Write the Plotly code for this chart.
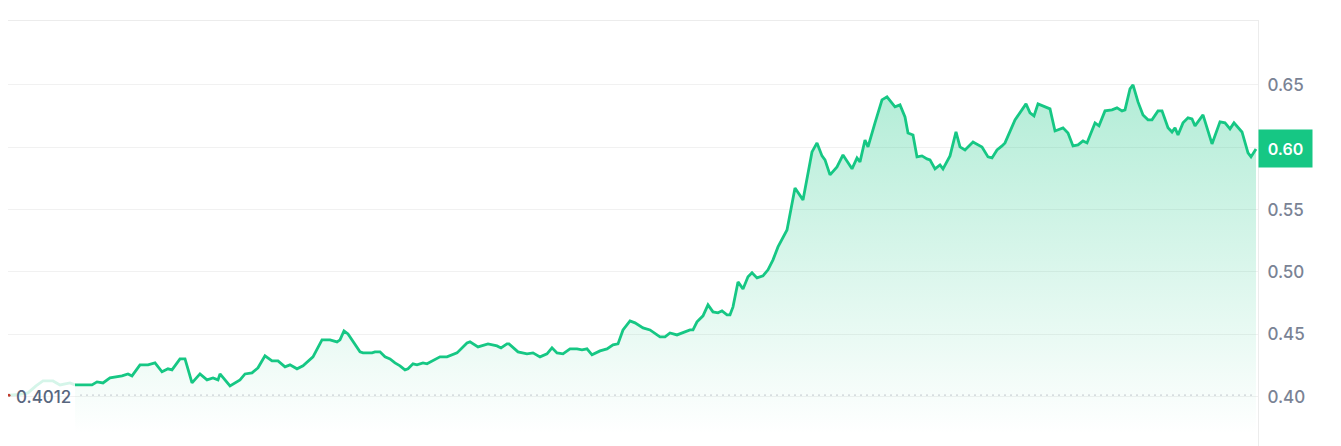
import plotly.graph_objects as go

# Time axis: minutes since the start of the displayed period
lead_minutes = [0, 55, 95, 135, 170, 220, 255, 305, 330]
lead_prices = [0.4012, 0.4018, 0.4030, 0.4086, 0.4126, 0.4126, 0.4094, 0.4110, 0.4094]

minutes = [
    330, 415, 440, 470, 505, 540, 565, 595, 615, 655, 695, 730, 765, 795, 815, 855, 880,
    915, 955, 990, 1020, 1045, 1055, 1105, 1155, 1180, 1215, 1245, 1280, 1315, 1345,
    1380, 1405, 1440, 1470, 1520, 1565, 1605, 1640, 1655, 1675, 1695, 1755, 1770, 1815,
    1830, 1855, 1880, 1905, 1930, 1955, 1980, 1995, 2020, 2040, 2070, 2090, 2155, 2190,
    2240, 2290, 2305, 2345, 2395, 2440, 2460, 2490, 2500, 2545, 2590, 2620, 2655, 2690,
    2715, 2740, 2770, 2805, 2840, 2865, 2890, 2915, 2955, 2990, 3020, 3045, 3070, 3105,
    3130, 3170, 3205, 3255, 3280, 3305, 3340, 3370, 3405, 3420, 3440, 3470, 3495, 3520,
    3545, 3565, 3590, 3605, 3620, 3645, 3670, 3695, 3715, 3740, 3770, 3795, 3820, 3845,
    3890, 3930, 3970, 4015, 4040, 4065, 4080, 4105, 4140, 4170, 4215, 4240, 4255, 4280,
    4295, 4330, 4365, 4390, 4430, 4455, 4480, 4495, 4520, 4540, 4565, 4590, 4605, 4630,
    4655, 4670, 4705, 4735, 4755, 4780, 4820, 4865, 4895, 4915, 4940, 4965, 4980, 5030,
    5055, 5085, 5105, 5125, 5145, 5180, 5205, 5230, 5270, 5295, 5320, 5345, 5370, 5390,
    5430, 5450, 5480, 5515, 5540, 5565, 5580, 5605, 5620, 5645, 5670, 5695, 5715, 5745,
    5765, 5795, 5815, 5830, 5845, 5870, 5895, 5915, 5930, 5970, 6015, 6055, 6080, 6105,
    6125, 6165, 6195, 6210, 6235,
]
prices = [
    0.4094, 0.4094, 0.4118, 0.4110, 0.4150, 0.4158, 0.4166, 0.4182, 0.4166, 0.4255, 0.4255,
    0.4271, 0.4199, 0.4223, 0.4215, 0.4303, 0.4303, 0.4110, 0.4182, 0.4134, 0.4150, 0.4134,
    0.4182, 0.4086, 0.4134, 0.4182, 0.4190, 0.4231, 0.4327, 0.4287, 0.4287, 0.4239, 0.4255,
    0.4223, 0.4247, 0.4319, 0.4455, 0.4455, 0.4439, 0.4455, 0.4527, 0.4503, 0.4359, 0.4351,
    0.4351, 0.4359, 0.4359, 0.4319, 0.4303, 0.4271, 0.4247, 0.4215, 0.4223, 0.4263, 0.4255,
    0.4271, 0.4263, 0.4319, 0.4319, 0.4351, 0.4431, 0.4439, 0.4399, 0.4423, 0.4407, 0.4391,
    0.4423, 0.4423, 0.4359, 0.4343, 0.4351, 0.4319, 0.4343, 0.4391, 0.4351, 0.4343, 0.4383,
    0.4383, 0.4375, 0.4383, 0.4335, 0.4367, 0.4383, 0.4415, 0.4423, 0.4535, 0.4608, 0.4592,
    0.4551, 0.4535, 0.4479, 0.4479, 0.4511, 0.4495, 0.4511, 0.4535, 0.4535, 0.4600, 0.4648,
    0.4736, 0.4680, 0.4672, 0.4688, 0.4656, 0.4656, 0.4720, 0.4920, 0.4864, 0.4961, 0.4993,
    0.4952, 0.4969, 0.5017, 0.5097, 0.5201, 0.5337, 0.5674, 0.5578, 0.5963, 0.6035, 0.5931,
    0.5899, 0.5779, 0.5843, 0.5939, 0.5827, 0.5915, 0.5883, 0.6059, 0.6003, 0.6196, 0.6380,
    0.6404, 0.6324, 0.6340, 0.6244, 0.6115, 0.6099, 0.5923, 0.5931, 0.5907, 0.5899, 0.5827,
    0.5859, 0.5827, 0.5931, 0.6123, 0.6003, 0.5979, 0.6043, 0.6003, 0.5923, 0.5915, 0.5979,
    0.6011, 0.6035, 0.6220, 0.6276, 0.6348, 0.6276, 0.6252, 0.6348, 0.6324, 0.6308, 0.6131,
    0.6156, 0.6115, 0.6011, 0.6019, 0.6051, 0.6035, 0.6196, 0.6172, 0.6292, 0.6300, 0.6316,
    0.6292, 0.6300, 0.6468, 0.6500, 0.6364, 0.6260, 0.6220, 0.6220, 0.6292, 0.6292, 0.6156,
    0.6123, 0.6156, 0.6099, 0.6196, 0.6236, 0.6228, 0.6172, 0.6260, 0.6027, 0.6204, 0.6196,
    0.6148, 0.6196, 0.6123, 0.5955, 0.5923, 0.5987,
]

open_price = 0.4012
y_ticks = [0.40, 0.45, 0.50, 0.55, 0.60, 0.65]
y_tick_labels = ["0.40", "0.45", "0.50", "0.55", "0.60", "0.65"]

GREEN = "#16c784"
FONT = "Inter, Roboto, sans-serif"

fig = go.Figure()

# main price line with gradient area
fig.add_trace(go.Scatter(
    x=minutes, y=prices, mode="lines",
    line=dict(color=GREEN, width=2.8),
    fill="tozeroy",
    fillgradient=dict(
        type="vertical",
        colorscale=[[0, "rgba(22,199,132,0.0)"], [1, "rgba(22,199,132,0.33)"]],
        start=0.37, stop=0.65,
    ),
    hoverinfo="skip",
))

# faded lead segment behind the open label
fig.add_trace(go.Scatter(
    x=lead_minutes, y=lead_prices, mode="lines",
    line=dict(color="rgba(22,199,132,0.18)", width=2.8),
    hoverinfo="skip",
))

# starting point marker
fig.add_trace(go.Scatter(
    x=[lead_minutes[0]], y=[open_price], mode="markers",
    marker=dict(color="#c0392b", size=3),
    hoverinfo="skip",
))

# dotted open-price reference line
fig.add_shape(type="line", xref="paper", yref="y",
              x0=0.058, x1=0.998, y0=open_price, y1=open_price,
              line=dict(color="#a3a9b4", width=1.3, dash="1px,5px"), layer="above")

# open price label
fig.add_annotation(xref="paper", yref="y", x=0.005, y=open_price,
                   xanchor="left", yanchor="middle", yshift=-2,
                   text=f"{open_price:.4f}", showarrow=False,
                   font=dict(family=FONT, size=17, color="#58667e", weight=500))

# current price badge
fig.add_annotation(xref="paper", yref="y", x=1.0, y=prices[-1],
                   xanchor="left", yanchor="middle",
                   text=f"{prices[-1]:.2f}", showarrow=False,
                   bgcolor=GREEN, borderpad=0, width=53, height=37,
                   align="center", valign="middle",
                   font=dict(family=FONT, size=16, color="white", weight=600))

fig.update_layout(
    width=1333, height=438,
    margin=dict(l=0, r=83, t=13, b=0),
    paper_bgcolor="white", plot_bgcolor="white",
    showlegend=False, hovermode=False,
    xaxis=dict(range=[-5, 6245], showgrid=False, zeroline=False,
               showticklabels=False, ticks="", side="top",
               showline=True, linecolor="#ececec", linewidth=1),
    yaxis=dict(range=[0.3604, 0.7013], side="right",
               tickvals=y_ticks, ticktext=y_tick_labels,
               showgrid=True, gridcolor="#f1f1f1", gridwidth=1,
               zeroline=False, ticks="",
               showline=True, mirror=True, linecolor="#ececec", linewidth=1,
               ticklabelstandoff=5,
               tickfont=dict(family=FONT, size=17, color="#7a8395", weight=500)),
)

fig.write_html("out.html")
